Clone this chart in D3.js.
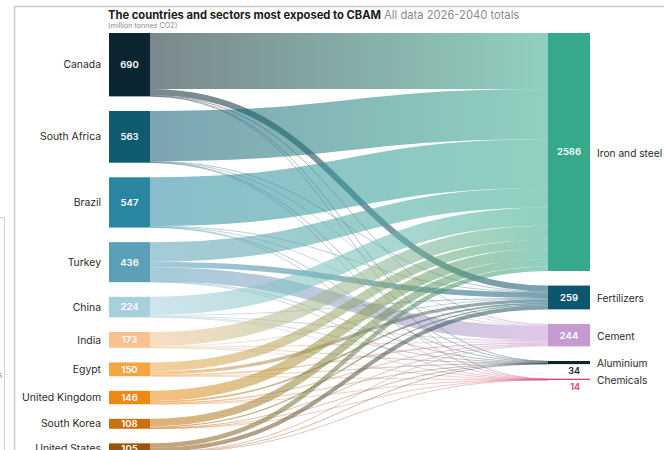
<!DOCTYPE html>
<html><head><meta charset="utf-8">
<script src="https://cdn.jsdelivr.net/npm/d3@7"></script>
<style>
body{margin:0;background:#fff;}
svg{display:block;font-family:Inter,"Liberation Sans",sans-serif;}
</style>
</head><body>
<svg id="c" width="664" height="450"></svg>
<script>
// ---- data ----
const countries = ["Canada","South Africa","Brazil","Turkey","China","India","Egypt","United Kingdom","South Korea","United States"];
const countryTotals = [690,563,547,436,224,173,150,146,108,105];
const sectors = ["Iron and steel","Fertilizers","Cement","Aluminium","Chemicals"];
const sectorTotals = [2586,259,244,34,14];
// flows from each country (same order as countries) into each sector
const ironSteel   = [610,546,530,214,198,153,97,112,82,49];
const fertilizers = [65,5,4,60,8,6,35,18,13,45];
const cement      = [9,6,7,155,12,10,15,12,10,8];
const aluminium   = [4,4,4,5,5,3,2,3,2,2];
const chemicals   = [2,2,2,2,1,1,1,1,1,1];
// palette
const countryColors = ["#0c2631","#0e5a70","#2a86a1","#5b9fb8","#a8cfdc","#f7c28f","#f3a443","#ee8a12","#c9710c","#9c5408"];
const sectorColors  = ["#36a98b","#0e5670","#c59ad0","#0c2631","#d6416b"];

// ---- layout ----
const svg = d3.select("#c");
const chartTop = 33, chartBottom = 453, pad = 14.6;
const lx0 = 109, lx1 = 150, rx0 = 548, rx1 = 590;
const flows = [ironSteel, fertilizers, cement, aluminium, chemicals];
const leftVals = countries.map((c,i)=>d3.sum(flows, f=>f[i]));
const rightVals = flows.map(f=>d3.sum(f));
const grandTotal = d3.sum(leftVals);
const ky = d3.scaleLinear().domain([0,grandTotal]).range([0, chartBottom-chartTop-(countries.length-1)*pad]);

const leftNodes = countries.map((name,i)=>({name, i, value:leftVals[i], color:countryColors[i]}));
let yy = chartTop;
leftNodes.forEach(n=>{n.y0=yy; n.y1=yy+ky(n.value); yy=n.y1+pad; n.off=n.y0;});
const rightNodes = sectors.map((name,j)=>({name, j, value:rightVals[j], color:sectorColors[j]}));
yy = chartTop;
rightNodes.forEach(n=>{n.y0=yy; n.y1=yy+ky(n.value); yy=n.y1+pad; n.off=n.y0;});

const links = [];
countries.forEach((c,i)=>sectors.forEach((s,j)=>{
  const v = flows[j][i];
  if (v>0) links.push({s:leftNodes[i], t:rightNodes[j], value:v, w:ky(v)});
}));
leftNodes.forEach(n=>{
  links.filter(l=>l.s===n).sort((a,b)=>a.t.j-b.t.j).forEach(l=>{l.sy=n.off+l.w/2; n.off+=l.w;});
});
rightNodes.forEach(n=>{
  links.filter(l=>l.t===n).sort((a,b)=>a.s.i-b.s.i).forEach(l=>{l.ty=n.off+l.w/2; n.off+=l.w;});
});

// ---- frame decorations from screenshot ----
svg.append("path").attr("d","M14.5,450V6.5H664").attr("fill","none").attr("stroke","#c9c9c9").attr("stroke-width",1.5);
svg.append("path").attr("d","M0,217.5H4.5V450").attr("fill","none").attr("stroke","#cfcfcf").attr("stroke-width",1);
svg.append("text").attr("x",-2).attr("y",378).attr("font-size",8).attr("fill","#888").text("s");

// ---- title ----
const title = svg.append("text").attr("x",108).attr("y",19).attr("font-size",11.2);
title.append("tspan").attr("font-weight",700).attr("fill","#1a1a1a").text("The countries and sectors most exposed to CBAM");
title.append("tspan").attr("fill","#8a8a8a").text(" All data 2026-2040 totals");
svg.append("text").attr("x",108).attr("y",28).attr("font-size",7.2).attr("fill","#8a8a8a").text("(million tonnes CO2)");

// ---- links ----
const defs = svg.append("defs");
const linkGen = d3.linkHorizontal();
const gLinks = svg.append("g").attr("fill","none");
links.forEach((l,k)=>{
  const id = "g"+k;
  const gr = defs.append("linearGradient").attr("id",id).attr("gradientUnits","userSpaceOnUse")
    .attr("x1",lx1).attr("x2",rx0).attr("y1",0).attr("y2",0);
  gr.append("stop").attr("offset","0%").attr("stop-color",l.s.color);
  gr.append("stop").attr("offset","100%").attr("stop-color",l.t.color);
  gLinks.append("path")
    .attr("d",linkGen({source:[lx1,l.sy],target:[rx0,l.ty]}))
    .attr("stroke",`url(#${id})`).attr("stroke-opacity",0.55)
    .attr("stroke-width",Math.max(0.6,l.w));
});

// ---- nodes ----
svg.append("g").selectAll("rect").data(leftNodes).join("rect")
  .attr("x",lx0).attr("width",lx1-lx0).attr("y",d=>d.y0).attr("height",d=>d.y1-d.y0).attr("fill",d=>d.color);
svg.append("g").selectAll("rect").data(rightNodes).join("rect")
  .attr("x",rx0).attr("width",rx1-rx0).attr("y",d=>d.y0).attr("height",d=>Math.max(1.3,d.y1-d.y0)).attr("fill",d=>d.color);

// left labels
svg.append("g").selectAll("text").data(leftNodes).join("text")
  .attr("x",101).attr("y",d=>(d.y0+d.y1)/2).attr("dy","0.35em").attr("text-anchor","end")
  .attr("font-size",10.4).attr("fill","#2a2a2a").text(d=>d.name);
svg.append("g").selectAll("text").data(leftNodes).join("text")
  .attr("x",(lx0+lx1)/2).attr("y",d=>(d.y0+d.y1)/2).attr("dy","0.36em").attr("text-anchor","middle")
  .attr("font-size",9.5).attr("font-weight",600).attr("fill","#fff").text(d=>countryTotals[d.i]);

// right labels
svg.append("g").selectAll("text").data(rightNodes).join("text")
  .attr("x",597).attr("y",d=>(d.y0+d.y1)/2+1).attr("dy","0.35em")
  .attr("font-size",10.2).attr("fill","#2a2a2a").text(d=>d.name);
svg.append("g").selectAll("text").data(rightNodes.filter(d=>d.y1-d.y0>10)).join("text")
  .attr("x",(rx0+rx1)/2).attr("y",d=>(d.y0+d.y1)/2).attr("dy","0.36em").attr("text-anchor","middle")
  .attr("font-size",9.5).attr("font-weight",600).attr("fill","#fff").text(d=>sectorTotals[d.j]);
svg.append("g").selectAll("text").data(rightNodes.filter(d=>d.y1-d.y0<=10)).join("text")
  .attr("x",580).attr("y",d=>d.y1+9.5).attr("text-anchor","end")
  .attr("font-size",9).attr("font-weight",600).attr("fill",d=>d.color).text(d=>sectorTotals[d.j]);
</script>
</body></html>
